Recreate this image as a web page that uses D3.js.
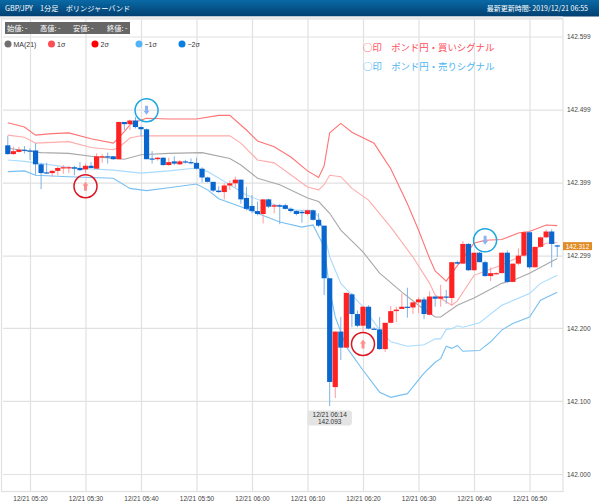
<!DOCTYPE html>
<html><head><meta charset="utf-8">
<script src="https://cdn.jsdelivr.net/npm/d3@7"></script>
<style>
html,body{margin:0;padding:0;background:#fff}
svg{display:block;font-family:"Liberation Sans",Arial,sans-serif}
text{fill:#444}
</style></head><body><div id="c"></div>
<script>
// Prices are 142 + n/1000. Candles run one per minute, from 05:16 (minute -4) to 06:55 (minute 95).
const openMilli=[450,438,441,444,443,443,424,413,412,415,419,419,420,419,417,422,418,434,435,435,431,482,479,484,475,472,432,431,433,423,428,424,428,427,426,418,406,400,388,386,395,398,403,378,367,360,356,376,366,368,368,363,360,359,356,361,348,340,268,119,195,173,246,219,203,229,199,198,171,207,223,226,229,228,235,239,218,243,240,243,241,290,288,315,279,303,290,271,274,275,303,263,288,299,331,283,311,324,332,313];
const highMilli=[463,448,448,449,446,453,426,426,416,421,423,422,422,427,425,427,439,438,440,435,482,482,485,489,476,473,442,434,434,433,435,430,430,432,433,420,407,400,394,398,402,407,403,393,382,373,376,377,370,370,370,365,361,361,362,362,357,340,268,195,215,248,248,224,230,231,201,215,207,230,229,247,255,235,242,242,250,243,259,252,290,292,319,316,303,304,292,283,276,303,306,288,309,333,333,311,325,335,335,314];
const lowMilli=[437,437,440,439,430,409,390,411,407,409,411,412,409,415,412,419,418,426,425,430,431,471,471,473,462,431,425,429,422,422,423,423,425,424,417,399,399,386,385,376,389,392,370,361,357,354,343,364,357,342,362,358,354,344,354,347,338,245,93,104,156,173,201,201,195,198,198,170,167,206,208,226,214,219,220,212,217,229,229,233,231,287,288,278,278,290,270,264,273,275,262,263,286,298,281,283,310,323,283,297];
const closeMilli=[438,442,444,443,442,424,412,412,415,419,420,420,418,416,422,419,435,435,434,431,482,479,484,475,472,431,431,433,423,427,425,428,427,426,418,406,400,388,386,395,398,403,376,363,360,356,376,366,368,366,363,360,356,357,361,348,340,268,126,195,173,248,219,203,229,199,198,171,207,223,225,229,228,235,239,219,243,240,243,242,290,288,315,279,303,290,271,275,275,303,263,288,299,331,283,311,324,332,315,312];

const plus2Minutes=[-4,-1,1,4,7,11,15,16,18,19,21,25,30,34,36,39,41,44,47,50,52,53,54,56,58,62,63,65,68,70,72,73,75,76,80,82,85,88,90,93,95];
const plus2Milli=[481,475,464,466,467,459,453,460,478,482,487,486,486,491,491,471,456,448,434,415,406,422,467,480,468,453,441,418,370,334,295,278,264,275,316,320,321,330,332,341,340];
const plus1Minutes=[-4,-1,1,7,11,15,16,18,20,25,30,36,38,41,44,50,52,53,54,56,58,61,65,69,72,73,76,77,80,85,90,93,95];
const plus1Milli=[464,461,453,455,447,444,447,460,463,463,463,463,453,430,426,393,389,396,409,407,391,375,338,297,261,245,231,237,272,286,304,316,317];
const maMinutes=[-4,-1,2,7,12,17,20,25,31,36,38,41,45,50,52,54,56,60,63,67,70,73,74,77,80,85,87,90,95];
const maMilli=[446,443,440,439,434,431,437,439,440,432,423,405,396,378,373,357,334,304,275,249,231,215,215,231,241,261,265,275,295];
const minus1Minutes=[-4,-1,2,8,15,20,25,30,32,36,39,42,48,51,52,53,54,56,60,62,63,65,68,71,73,74,75,76,77,78,81,82,85,90,92,95];
const minus1Milli=[430,428,425,419,416,412,415,419,414,396,382,373,361,361,352,330,297,261,229,208,197,181,175,177,185,185,198,199,203,201,207,213,231,247,261,272];
const minus2Minutes=[-4,-1,1,7,15,18,21,25,30,32,34,38,42,45,49,51,53,54,55,57,60,63,65,68,71,73,74,75,76,77,78,81,83,85,87,90,92,95];
const minus2Milli=[414,415,409,407,405,391,388,392,397,389,377,366,354,345,338,341,311,252,215,174,142,112,105,110,138,153,158,175,172,176,168,169,181,197,206,215,238,249];

const priceTicks=[142.000,142.100,142.200,142.299,142.399,142.499,142.599];
const timeTickMinutes=[0,10,20,30,40,50,60,70,80,90];
const signalMinutes=[10,21,60,82];
const signalMilli=[394,498,178,320];
const signalKinds=["buy","sell","buy","sell"];
const legendLabels=["MA(21)","1σ","2σ","−1σ","−2σ"];
const infoLabels=["始値: -","高値: -","安値: -","終値: -"];
const lastPrice=142.312;
const lowLabel=["12/21 06:14","142.093"];
const lowMinute=54, lowPrice=142.093;

const W=599,H=502;
const svg=d3.select("#c").append("svg").attr("width",W).attr("height",H);
const at=m=>new Date(2019,11,21,5,20+m);
const x=d3.scaleTime().domain([at(0),at(90)]).range([30,529.5]);
const y=d3.scaleLinear().domain([142,142.599]).range([474,36.5]);
const P=v=>142+v/1000;
const L=3,R=563,T=19,B=491.5;

// header
const defs=svg.append("defs");
const g=defs.append("linearGradient").attr("id","hd").attr("x1",0).attr("x2",0).attr("y1",0).attr("y2",1);
g.append("stop").attr("offset",0).attr("stop-color","#0a6aa6");
g.append("stop").attr("offset",1).attr("stop-color","#023f70");
svg.append("rect").attr("width",W).attr("height",16.5).attr("fill","url(#hd)");
svg.append("rect").attr("y",16.5).attr("width",L+R-3).attr("height",2.5).attr("fill","#eeeeee");
svg.append("text").attr("x",5).attr("y",11).attr("font-size",7.2).style("fill","#fff").attr("font-family","'Noto Sans CJK JP'").text("GBP/JPY　1分足　ボリンジャーバンド");
svg.append("text").attr("x",588).attr("y",11).attr("text-anchor","end").attr("font-size",7).style("fill","#fff").attr("font-family","'Noto Sans CJK JP'").text("最新更新時間: 2019/12/21 06:55");

// grid + axes
const gridColor="#e1e1e1";
const xAxis=d3.axisBottom(x).tickValues(timeTickMinutes.map(at)).tickFormat(d3.timeFormat("%m/%d %H:%M")).tickSize(T-B).tickPadding(0);
const gx=svg.append("g").attr("transform",`translate(0,${B})`).call(xAxis);
gx.select(".domain").remove();
gx.selectAll("line").attr("stroke",gridColor).attr("stroke-width",1.2);
gx.selectAll("text").attr("y",9).attr("dy",0).attr("font-size",6.5).attr("font-family","'Liberation Sans'").style("fill","#444");
const yAxis=d3.axisRight(y).tickValues(priceTicks).tickFormat(d3.format(".3f")).tickSize(L-R).tickPadding(0);
const gy=svg.append("g").attr("transform",`translate(${R},0)`).call(yAxis);
gy.select(".domain").remove();
gy.selectAll("line").attr("stroke",gridColor).attr("stroke-width",1.2);
gy.selectAll("text").attr("x",4).attr("font-size",6.5).attr("font-family","'Liberation Sans'").style("fill","#444");
svg.append("rect").attr("x",L-1.5).attr("y",T).attr("width",R-L+1.5).attr("height",B-T).attr("fill","none").attr("stroke",gridColor).attr("stroke-width",1.2);

// bands
const line=d3.line().x(d=>x(at(d[0]))).y(d=>y(P(d[1])));
const bands=[[plus2Minutes,plus2Milli,"#ff7474"],[plus1Minutes,plus1Milli,"#ffabab"],[maMinutes,maMilli,"#a8a8a8"],[minus1Minutes,minus1Milli,"#a8dbff"],[minus2Minutes,minus2Milli,"#78c0f2"]];
bands.forEach(([m,v,c])=>{
  svg.append("path").datum(m.map((k,i)=>[k,v[i]])).attr("d",line).attr("fill","none").attr("stroke",c).attr("stroke-width",1.1);
});

// candles
const candles=openMilli.map((o,i)=>({m:i-4,o:P(o),h:P(highMilli[i]),l:P(lowMilli[i]),c:P(closeMilli[i])}));
const cg=svg.append("g");
cg.selectAll("line").data(candles).join("line")
  .attr("x1",d=>x(at(d.m))).attr("x2",d=>x(at(d.m))).attr("y1",d=>y(d.h)).attr("y2",d=>y(d.l))
  .attr("stroke",d=>d.c>=d.o?"#ff9c9c":"#7fb2e6").attr("stroke-width",1);
cg.selectAll("rect").data(candles).join("rect")
  .attr("x",d=>x(at(d.m))-2.6).attr("width",5.2)
  .attr("y",d=>y(Math.max(d.o,d.c))).attr("height",d=>Math.max(1.2,Math.abs(y(d.o)-y(d.c))))
  .attr("fill",d=>d.c>=d.o?"#ff2222":"#0a66cf");

// signals
signalMinutes.forEach((m,i)=>{
  const buy=signalKinds[i]==="buy";
  const s=svg.append("g").attr("transform",`translate(${x(at(m))},${y(P(signalMilli[i]))})`);
  s.append("circle").attr("r",11.5).attr("fill","none").attr("stroke",buy?"#dc1420":"#1ea7e0").attr("stroke-width",1.5);
  s.append("path").attr("d",buy?"M0,-4.5 L3,-0.5 L1.5,-0.5 L1.5,4.5 L-1.5,4.5 L-1.5,-0.5 L-3,-0.5 Z":"M0,4.5 L3,0.5 L1.5,0.5 L1.5,-4.5 L-1.5,-4.5 L-1.5,0.5 L-3,0.5 Z").attr("fill",buy?"#ff8f8f":"#8ab2f4");
});

// info box + legend
svg.append("rect").attr("x",5).attr("y",22).attr("width",125).attr("height",12).attr("fill","#666");
infoLabels.forEach((t,i)=>svg.append("text").attr("x",[7,40,73,107][i]).attr("y",31).attr("font-size",7.2).style("fill","#fff").attr("font-family","'Noto Sans CJK JP'").text(t));
const legendColors=["#707070","#ff4d55","#ff0000","#55b4f8","#0a7fe0"];
const legendX=[8,51.5,95,139,182];
legendLabels.forEach((t,i)=>{
  svg.append("circle").attr("cx",legendX[i]).attr("cy",44).attr("r",3.5).attr("fill",legendColors[i]);
  svg.append("text").attr("x",legendX[i]+5.5).attr("y",47).attr("font-size",7).attr("font-family","'Liberation Sans'").style("fill","#333").text(t);
});

// annotations
svg.append("text").attr("x",363).attr("y",50.5).attr("font-size",9.4).style("fill","#ff4d5a").attr("font-family","'Noto Sans CJK JP'").text("○印　ポンド円・買いシグナル");
svg.append("text").attr("x",363).attr("y",69.5).attr("font-size",9.4).style("fill","#4db5f0").attr("font-family","'Noto Sans CJK JP'").text("○印　ポンド円・売りシグナル");

// last price tag
svg.append("rect").attr("x",563).attr("y",y(lastPrice)-4).attr("width",29).attr("height",8).attr("fill","#e08d28");
svg.append("text").attr("x",577.5).attr("y",y(lastPrice)+2.5).attr("text-anchor","middle").attr("font-size",6.5).style("fill","#fff").text(d3.format(".3f")(lastPrice));

// low callout
const lx=x(at(lowMinute)),ly=y(lowPrice);
svg.append("rect").attr("x",lx-22.3).attr("y",ly+4.5).attr("width",44.5).attr("height",15).attr("rx",3).attr("fill","#e4e4e4");
lowLabel.forEach((t,i)=>svg.append("text").attr("x",lx).attr("y",ly+10.5+i*7.2).attr("text-anchor","middle").attr("font-size",6.5).style("fill","#333").text(t));
</script></body></html>
